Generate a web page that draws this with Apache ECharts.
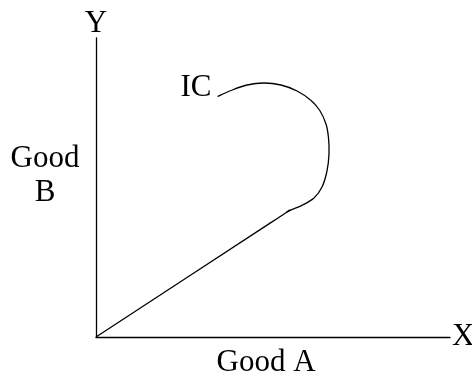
<!DOCTYPE html>
<html>
<head>
<meta charset="utf-8">
<script src="https://cdn.jsdelivr.net/npm/echarts@6/dist/echarts.min.js"></script>
<style>
  html, body { margin: 0; padding: 0; background: #fff; }
  #chart { width: 472px; height: 377px; }
</style>
</head>
<body>
<div id="chart"></div>
<script>
// indifference curve: straight from the origin, then bending back; ends at the IC label
const icPoints = [
  [0, 0], [176, 115.1], [191, 125], [206, 131.7], [218, 139], [226, 150], [231, 166],
  [233, 183], [232.5, 199], [230, 213], [223.5, 227], [214.5, 237], [201, 246],
  [185, 252], [168, 254], [151, 252], [135, 246.5], [121.5, 240.5]
]
const curveName = 'IC'
const xName = 'X'
const yName = 'Y'
const xTitle = 'Good A'
const yTitle = ['Good', 'B']

const font = '"Liberation Serif", serif'
const fontSize = 31
const chart = echarts.init(document.getElementById('chart'))

// one smooth (catmull-rom) piece per point, from point i to point i+1
function renderSegment(params, api) {
  const i = params.dataIndex
  const n = icPoints.length
  if (i >= n - 1) return null
  const p0 = api.coord(icPoints[Math.max(i - 1, 0)])
  const p1 = api.coord(icPoints[i])
  const p2 = api.coord(icPoints[i + 1])
  const p3 = api.coord(icPoints[Math.min(i + 2, n - 1)])
  return {
    type: 'bezierCurve',
    shape: {
      x1: p1[0], y1: p1[1], x2: p2[0], y2: p2[1],
      cpx1: p1[0] + (p2[0] - p0[0]) / 6, cpy1: p1[1] + (p2[1] - p0[1]) / 6,
      cpx2: p2[0] - (p3[0] - p1[0]) / 6, cpy2: p2[1] - (p3[1] - p1[1]) / 6
    },
    style: { stroke: '#000', lineWidth: 1.3, fill: 'none' }
  }
}

const axisBase = {
  type: 'value',
  min: 0,
  axisLine: { show: true, lineStyle: { color: '#000', width: 1.3 } },
  axisTick: { show: false },
  axisLabel: { show: false },
  splitLine: { show: false },
  nameTextStyle: { color: '#000', fontFamily: font, fontSize: fontSize }
}

function textEl(text, x, y) {
  return {
    type: 'text', x: x, y: y, silent: true,
    style: { text: text, fill: '#000', font: fontSize + 'px ' + font,
      textAlign: 'center', align: 'center', textVerticalAlign: 'middle', verticalAlign: 'middle' }
  }
}

chart.setOption({
  animation: false,
  backgroundColor: '#fff',
  grid: { left: 96, right: 22, top: 38, bottom: 40, containLabel: false, outerBoundsMode: 'none' },
  xAxis: { ...axisBase, max: 354, name: xName, nameLocation: 'end', nameGap: 2,
    nameTextStyle: { ...axisBase.nameTextStyle, align: 'left', verticalAlign: 'middle' } },
  yAxis: { ...axisBase, max: 299, name: yName, nameLocation: 'end', nameGap: 0,
    nameTextStyle: { ...axisBase.nameTextStyle, align: 'center', verticalAlign: 'bottom', lineHeight: 28 } },
  graphic: [
    textEl(xTitle, 266, 363),
    textEl(yTitle[0], 45, 159),
    textEl(yTitle[1], 45, 193)
  ],
  series: [
    { type: 'custom', data: icPoints, renderItem: renderSegment, clip: false, silent: true },
    { type: 'scatter', data: [icPoints[icPoints.length - 1]], symbolSize: 0, silent: true,
      itemStyle: { opacity: 1, color: '#000' },
      label: { show: true, formatter: curveName, position: 'left', distance: 6, offset: [0, -9],
        color: '#000', opacity: 1, fontFamily: font, fontSize: fontSize } }
  ]
})
</script>
</body>
</html>
